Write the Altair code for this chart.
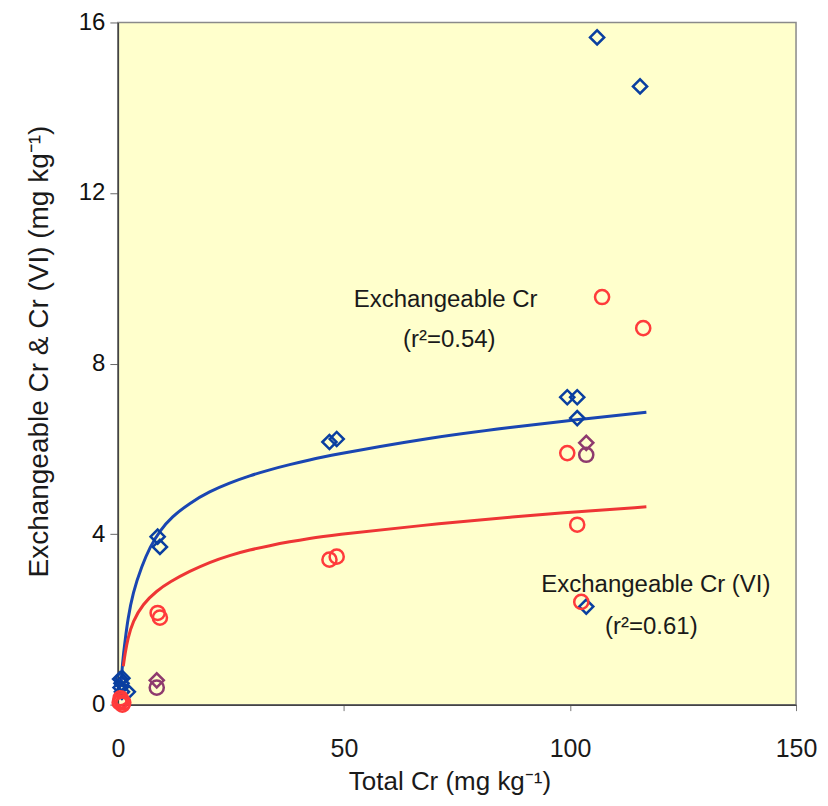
import altair as alt
import pandas as pd

# ---- data ----
# Exchangeable Cr (blue diamonds)
exch_x = [106.0, 115.5, 99.4, 101.6, 101.6, 46.8, 48.4, 8.8, 9.3, 103.6,
          0.5, 0.8, 1.0, 0.6, 0.9, 2.2]
exch_y = [15.65, 14.5, 7.21, 7.21, 6.72, 6.16, 6.23, 3.94, 3.70, 2.30,
          0.60, 0.50, 0.62, 0.40, 0.30, 0.30]
# Exchangeable Cr (VI) (red circles)
cr6_x = [107.1, 116.2, 99.4, 101.6, 46.8, 48.4, 8.8, 9.3, 102.5,
         0.4, 0.8, 1.2, 0.6, 1.0]
cr6_y = [9.56, 8.83, 5.90, 4.22, 3.40, 3.47, 2.15, 2.04, 2.41,
         0.05, 0.10, 0.05, 0.15, 0.00]
# overlapping (purple) markers
ov_d_x = [103.6, 8.6]
ov_d_y = [6.14, 0.57]
ov_c_x = [103.6, 8.6]
ov_c_y = [5.86, 0.40]

# fitted curves
fit_exch_x = [0.7, 0.9, 1.2, 1.6, 2.2, 3.3, 5.3, 7.1, 9.3, 11.9, 15.9, 20.3, 24.7,
              29.2, 33.6, 38.0, 42.4, 46.8, 66.7, 88.8, 101.4, 116.9]
fit_exch_y = [0.45, 0.80, 1.15, 1.50, 2.00, 2.62, 3.25, 3.70, 4.08, 4.40, 4.73, 5.00,
              5.20, 5.37, 5.51, 5.63, 5.74, 5.84, 6.23, 6.53, 6.68, 6.86]
fit_cr6_x = [1.2, 1.6, 2.2, 3.3, 5.5, 8.6, 11.5, 15.9, 20.3, 24.7, 29.2, 33.6,
             38.0, 42.4, 46.8, 66.7, 88.8, 101.4, 116.9]
fit_cr6_y = [0.90, 1.20, 1.55, 1.95, 2.36, 2.67, 2.88, 3.13, 3.34, 3.50, 3.63,
             3.73, 3.82, 3.90, 3.97, 4.20, 4.42, 4.52, 4.64]

# annotations
ann_text = ["Exchangeable Cr", "(r²=0.54)", "Exchangeable Cr (VI)", "(r²=0.61)"]
ann_x = [72.5, 73.3, 119.0, 118.0]
ann_y = [9.49, 8.55, 2.81, 1.83]

series = ["Exchangeable Cr", "Exchangeable Cr (VI)", "Overlap d", "Overlap c"]
series_colors = ["#0A3FA0", "#FF3B3B", "#8E3A6E", "#8E3A6E"]
series_shapes = ["diamond", "circle", "diamond", "circle"]

pts = pd.concat([
    pd.DataFrame({"x": exch_x, "y": exch_y, "s": series[0]}),
    pd.DataFrame({"x": cr6_x, "y": cr6_y, "s": series[1]}),
    pd.DataFrame({"x": ov_d_x, "y": ov_d_y, "s": series[2]}),
    pd.DataFrame({"x": ov_c_x, "y": ov_c_y, "s": series[3]}),
])
fits = pd.concat([
    pd.DataFrame({"x": fit_exch_x, "y": fit_exch_y, "s": "Exchangeable Cr"}),
    pd.DataFrame({"x": fit_cr6_x, "y": fit_cr6_y, "s": "Exchangeable Cr (VI)"}),
])
ann = pd.DataFrame({"t": ann_text, "x": ann_x, "y": ann_y})

FONT = "Liberation Sans, Arial, sans-serif"

xs = alt.Scale(domain=[0, 150], nice=False)
ys = alt.Scale(domain=[0, 16], nice=False)

x_axis = alt.Axis(values=[0, 50, 100, 150], title="Total Cr (mg kg⁻¹)",
                  grid=False, labelFont=FONT, labelFontSize=25, labelColor="#1a1a1a",
                  labelBaseline="middle", labelPadding=38, tickSize=6, tickColor="#777777",
                  domainColor="#444444", domainWidth=1.5, labelFlush=False,
                  titleFont=FONT, titleFontSize=26, titleFontWeight="normal",
                  titleColor="#1a1a1a", titleX=332, titleY=77, titleBaseline="middle",
                  titleAlign="center")
y_axis = alt.Axis(values=[0, 4, 8, 12, 16], title="Exchangeable Cr & Cr (VI) (mg kg⁻¹)",
                  grid=False, labelFont=FONT, labelFontSize=24, labelColor="#111111",
                  labelPadding=5, tickSize=8, tickColor="#666666", domainColor="#444444",
                  domainWidth=1.5, labelFlush=False,
                  titleFont=FONT, titleFontSize=28, titleFontWeight="normal",
                  titleColor="#1a1a1a", titleX=-78, titleY=329, titleAngle=270,
                  titleAlign="center", titleBaseline="middle")

lines = alt.Chart(fits).mark_line(strokeWidth=3, interpolate="basis").encode(
    x=alt.X("x:Q", scale=xs, axis=x_axis),
    y=alt.Y("y:Q", scale=ys, axis=y_axis),
    color=alt.Color("s:N", scale=alt.Scale(domain=["Exchangeable Cr", "Exchangeable Cr (VI)"],
                                           range=["#1A46B2", "#EE3535"]), legend=None),
    detail="s:N",
)

points = alt.Chart(pts).mark_point(filled=False, size=200, strokeWidth=2.5, opacity=1).encode(
    x=alt.X("x:Q", scale=xs),
    y=alt.Y("y:Q", scale=ys),
    color=alt.Color("s:N", scale=alt.Scale(domain=series, range=series_colors), legend=None),
    shape=alt.Shape("s:N", scale=alt.Scale(domain=series, range=series_shapes), legend=None),
)

texts = alt.Chart(ann).mark_text(font=FONT, fontSize=24, color="#1a1a1a",
                                 align="center", baseline="middle").encode(
    x=alt.X("x:Q", scale=xs),
    y=alt.Y("y:Q", scale=ys),
    text="t:N",
)

chart = alt.layer(lines, points, texts).resolve_scale(color="independent").properties(
    width=679, height=683,
    autosize=alt.AutoSizeParams(type="none"),
    padding={"left": 110, "top": 14, "right": 24, "bottom": 90},
    background="white",
).configure_view(fill="#FFFFCC", stroke="#8a8a8a", strokeWidth=1.5)

chart.save("out.html", embed_options={"renderer": "svg", "actions": False})
